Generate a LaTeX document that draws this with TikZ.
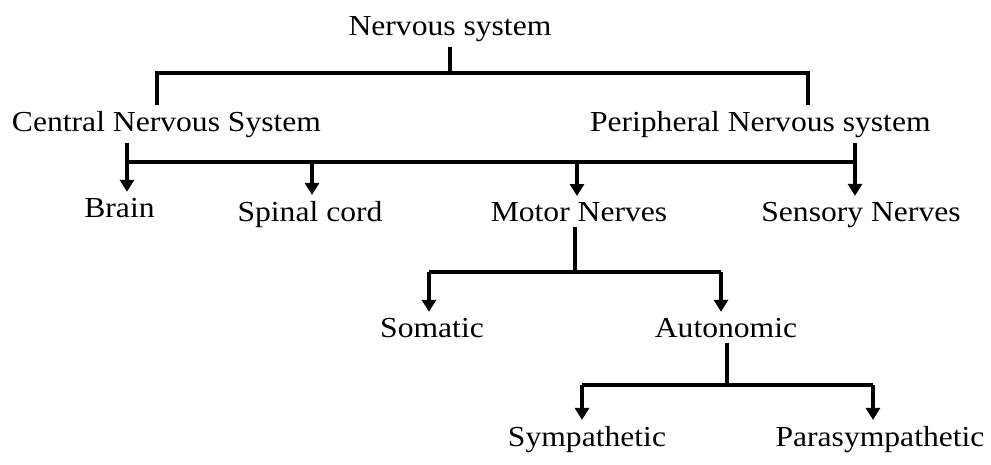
\documentclass[tikz,border=0pt]{standalone}
\usepackage{fontspec}
\setmainfont{Liberation Serif}[FakeStretch=1.09]
\usetikzlibrary{arrows.meta}
\begin{document}
\begin{tikzpicture}[x=1pt,y=-1pt,
  lab/.style={anchor=base,inner sep=0pt,outer sep=6pt,font=\fontsize{29}{34}\selectfont},
  ln/.style={line width=3.2pt},
  arr/.style={line width=3.2pt,-{Triangle[length=12pt,width=14pt]}}]
\useasboundingbox (0,0) rectangle (991,464);
% texts
\node[lab] (ns) at (450,35) {Nervous system};
\node[lab,anchor=base west] (cns) at (6,131) {Central Nervous System};
\node[lab,anchor=base west] (pns) at (584,131) {Peripheral Nervous system};
\node[lab] (brain) at (119.5,217) {Brain};
\node[lab] (spinal) at (310,221) {Spinal cord};
\node[lab] (motor) at (579,221) {Motor Nerves};
\node[lab] (sensory) at (861,221) {Sensory Nerves};
\node[lab] (somatic) at (432,337) {Somatic};
\node[lab] (auto) at (726,337) {Autonomic};
\node[lab] (symp) at (587,446) {Sympathetic};
\node[lab] (para) at (880,446) {Parasympathetic};
% rows and columns
\coordinate (r1) at (0,73);
\coordinate (r2) at (0,162);
\coordinate (r3) at (0,272);
\coordinate (r4) at (0,385);
\coordinate (xL1) at (157,0);
\coordinate (xR1) at (808,0);
\coordinate (xA) at (127,0);
\coordinate (xB) at (312,0);
\coordinate (xC) at (577,0);
\coordinate (xD) at (855,0);
\coordinate (xM) at (575,0);
\coordinate (xS) at (429,0);
\coordinate (xU) at (721,0);
\coordinate (xV) at (727,0);
\coordinate (xP) at (582,0);
\coordinate (xQ) at (873,0);
% level 1
\draw[ln] (ns.south) -- (ns.south |- r1);
\draw[ln] (cns.north -| xL1) -- (xL1 |- r1) -- (xR1 |- r1) -- (pns.north -| xR1);
% level 2
\draw[ln] (cns.south -| xA) -- (xA |- r2) -- (xD |- r2) -- (pns.south -| xD);
\draw[arr] (xA |- r2) -- (brain.north -| xA);
\draw[arr] (xB |- r2) -- (spinal.north -| xB);
\draw[arr] (xC |- r2) -- (motor.north -| xC);
\draw[arr] (xD |- r2) -- (sensory.north -| xD);
% level 3
\draw[ln] (motor.south -| xM) -- (xM |- r3);
\draw[ln] (xS |- r3) -- (xU |- r3);
\draw[arr] (xS |- r3) -- (somatic.north -| xS);
\draw[arr] (xU |- r3) -- (auto.north -| xU);
% level 4
\draw[ln] (auto.south -| xV) -- (xV |- r4);
\draw[ln] (xP |- r4) -- (xQ |- r4);
\draw[arr] (xP |- r4) -- (symp.north -| xP);
\draw[arr] (xQ |- r4) -- (para.north -| xQ);
\end{tikzpicture}
\end{document}
